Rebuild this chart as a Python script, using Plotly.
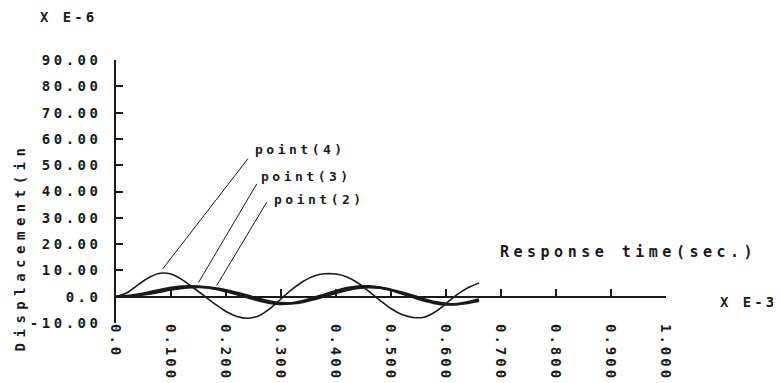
import plotly.graph_objects as go

# ---- data (time in 1e-3 s, displacement in 1e-6 in) ----
time_ms = [0, 0.02, 0.04, 0.06, 0.08, 0.10, 0.12, 0.14, 0.16, 0.18, 0.20, 0.22, 0.24,
           0.26, 0.28, 0.30, 0.32, 0.34, 0.36, 0.38, 0.40, 0.42, 0.44, 0.46, 0.48, 0.50,
           0.52, 0.54, 0.56, 0.58, 0.60, 0.62, 0.64, 0.66]
point4 = [0, 1.5, 4.5, 7.3, 8.9, 8.6, 6.5, 3.5, 0.4, -2.8, -5.6, -7.5, -8.2,
          -7.2, -4.5, -0.8, 2.8, 5.8, 7.9, 8.7, 8.6, 7.5, 5.2, 2.0, -1.4, -4.5,
          -6.8, -7.9, -7.8, -5.8, -2.6, 0.8, 3.4, 5.2]
point3 = [0, 0.3, 0.9, 1.7, 2.6, 3.4, 3.9, 4.0, 3.7, 3.0, 2.0, 0.9, -0.3,
          -1.5, -2.4, -2.8, -2.5, -1.6, -0.4, 0.9, 2.2, 3.3, 3.9, 4.0, 3.5, 2.5,
          1.2, -0.2, -1.5, -2.5, -3.0, -2.8, -2.0, -1.0]
point2 = [0, 0.1, 0.5, 1.1, 1.9, 2.7, 3.3, 3.6, 3.6, 3.2, 2.5, 1.5, 0.4,
          -0.8, -1.8, -2.4, -2.5, -2.0, -1.0, 0.2, 1.4, 2.5, 3.3, 3.6, 3.4, 2.7,
          1.6, 0.4, -0.9, -2.0, -2.7, -2.9, -2.4, -1.6]

x_ticks = [0, 0.1, 0.2, 0.3, 0.4, 0.5, 0.6, 0.7, 0.8, 0.9, 1.0]
x_tick_labels = ["0.0", "0.100", "0.200", "0.300", "0.400", "0.500",
                 "0.600", "0.700", "0.800", "0.900", "1.000"]
y_ticks = [-10, 0, 10, 20, 30, 40, 50, 60, 70, 80, 90]
y_tick_labels = ["-10.00", "0.0", "10.00", "20.00", "30.00", "40.00",
                 "50.00", "60.00", "70.00", "80.00", "90.00"]

# label name, label anchor (x, y), leader line tail (x, y), leader tip (x, y)
labels = ["point(4)", "point(3)", "point(2)"]
label_x = [0.249, 0.260, 0.284]
label_y = [55.9, 45.6, 36.9]
lead_x0 = [0.240, 0.256, 0.274]
lead_y0 = [52.5, 42.9, 35.9]
lead_x1 = [0.085, 0.150, 0.183]
lead_y1 = [10.6, 5.4, 4.2]

INK = "#1a1a1a"
FONT = "DejaVu Sans Mono"


def spaced(t, sp):
    return f'<span style="letter-spacing:{sp}px;font-weight:bold">{t}</span>'


fig = go.Figure()
fig.add_trace(go.Scatter(x=time_ms, y=point4, mode="lines", line=dict(color=INK, width=1.6, shape="spline"),
                         name="point(4)", hoverinfo="skip"))
fig.add_trace(go.Scatter(x=time_ms, y=point3, mode="lines", line=dict(color=INK, width=2.4, shape="spline"),
                         name="point(3)", hoverinfo="skip"))
fig.add_trace(go.Scatter(x=time_ms, y=point2, mode="lines", line=dict(color=INK, width=2.4, shape="spline"),
                         name="point(2)", xaxis="x2", hoverinfo="skip"))

for i, t in enumerate(labels):
    fig.add_shape(type="line", xref="x", yref="y", x0=lead_x0[i], y0=lead_y0[i],
                  x1=lead_x1[i], y1=lead_y1[i], line=dict(color=INK, width=1))
    fig.add_annotation(x=label_x[i], y=label_y[i], xref="x", yref="y", text=spaced(t, 3.5),
                       showarrow=False, xanchor="left", yanchor="middle",
                       font=dict(family=FONT, size=13, color=INK))

fig.add_annotation(x=0.695, y=0.27, xref="paper", yref="paper",
                   text=spaced("Response time(sec.)", 4.5), showarrow=False,
                   xanchor="left", yanchor="middle", font=dict(family=FONT, size=15, color=INK))
fig.add_annotation(x=1.095, y=0.08, xref="paper", yref="paper", text=spaced("X E-3", 3),
                   showarrow=False, xanchor="left", yanchor="middle",
                   font=dict(family=FONT, size=14, color=INK))
fig.add_annotation(x=-0.142, y=1.163, xref="paper", yref="paper", text=spaced("X E-6", 3),
                   showarrow=False, xanchor="left", yanchor="middle",
                   font=dict(family=FONT, size=14, color=INK))
fig.add_annotation(x=-0.175, y=0.29, xref="paper", yref="paper",
                   text=spaced("Displacement(in", 5.5), textangle=-90,
                   showarrow=False, xanchor="center", yanchor="middle",
                   font=dict(family=FONT, size=14, color=INK))

# the page places the figure 8 px from the top-left corner, so the figure is 8 px smaller
fig.update_layout(
    width=773, height=375,
    margin=dict(l=108, r=115, t=52, b=60, autoexpand=False),
    paper_bgcolor="white", plot_bgcolor="white",
    showlegend=False,
    xaxis=dict(range=[0, 1.0], anchor="free", position=0.1, showline=True, linecolor=INK,
               linewidth=1.5, ticks="inside", ticklen=7, tickwidth=1.5, tickcolor=INK,
               tickvals=x_ticks, showticklabels=False, showgrid=False, zeroline=False,
               automargin=False),
    xaxis2=dict(range=[0, 1.0], overlaying="x", anchor="y", side="bottom", showline=False,
                ticks="", tickvals=x_ticks, ticktext=[spaced(t, 3) for t in x_tick_labels],
                tickangle=90, showgrid=False, zeroline=False, automargin=False,
                tickfont=dict(family=FONT, size=14, color=INK)),
    yaxis=dict(range=[-10, 90], showline=True, linecolor=INK, linewidth=1.5,
               ticks="inside", ticklen=7, tickwidth=1.5, tickcolor=INK,
               tickvals=y_ticks, ticktext=[spaced(t, 3.5) for t in y_tick_labels],
               ticklabelstandoff=10, showgrid=False, zeroline=False, automargin=False,
               tickfont=dict(family=FONT, size=14, color=INK)),
)

fig.write_html("out.html")
